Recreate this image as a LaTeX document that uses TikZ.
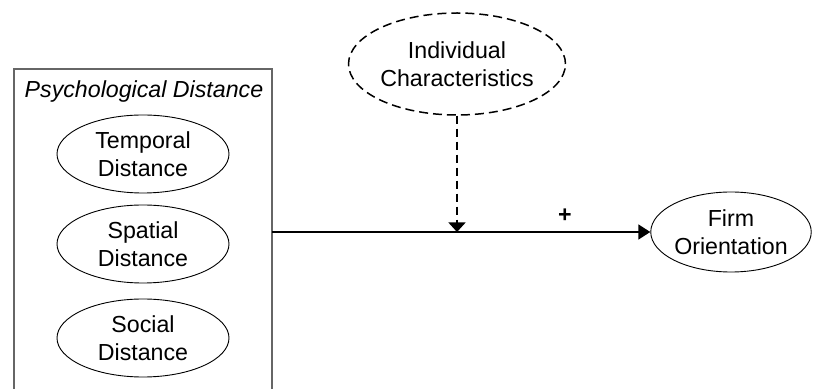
\documentclass[tikz,border=0pt]{standalone}
\usepackage{fontspec}
\setmainfont{Liberation Sans}
\usetikzlibrary{shapes.geometric,arrows.meta}
\begin{document}
\begin{tikzpicture}[x=0.5pt,y=-0.5pt,
  every node/.style={font=\fontsize{11.6}{14}\selectfont, align=center},
  oval/.style={ellipse, draw, line width=0.45pt, inner sep=0pt},
  dashedoval/.style={ellipse, draw, line width=0.75pt, dash pattern=on 4.5pt off 2.5pt, inner sep=0pt},
  framebox/.style={draw=black!60, line width=0.55pt},
  mainarrow/.style={line width=0.8pt, -{Triangle[length=6pt,width=7.5pt]}},
  modarrow/.style={line width=0.65pt, dash pattern=on 4pt off 2.5pt, -{Triangle[length=4.75pt,width=8.5pt]}}
]
\useasboundingbox (0,0) rectangle (813,389);
% frame of psychological distance (open at the bottom)
\coordinate (bl) at (14,392);
\coordinate (tl) at (14,69);
\coordinate (tr) at (272,69);
\coordinate (br) at (272,392);
\draw[framebox] (bl) -- (tl) -- (tr) -- (br);
\node (title) at (144,92) {\itshape Psychological Distance};
\node[oval, minimum width=86pt, minimum height=39pt] (temporal) at (143,154) {Temporal\\Distance};
\node[oval, minimum width=86pt, minimum height=39pt] (spatial) at (143,244) {Spatial\\Distance};
\node[oval, minimum width=86pt, minimum height=39pt] (social) at (143,338) {Social\\Distance};
\node[dashedoval, minimum width=95pt, minimum height=51pt] (indiv) at (457,64) {Individual\\Characteristics};
\node[oval, minimum width=78pt, minimum height=40pt] (firm) at (731,232) {Firm\\Orientation};
\coordinate (start) at (272,232);
\coordinate (meet) at (457,232);
\draw[mainarrow] (start) -- (firm.west);
\draw[modarrow] (indiv.south) -- (meet);
\node[font=\fontsize{11.6}{14}\selectfont\bfseries] (plus) at (565,216) {+};
\end{tikzpicture}
\end{document}
